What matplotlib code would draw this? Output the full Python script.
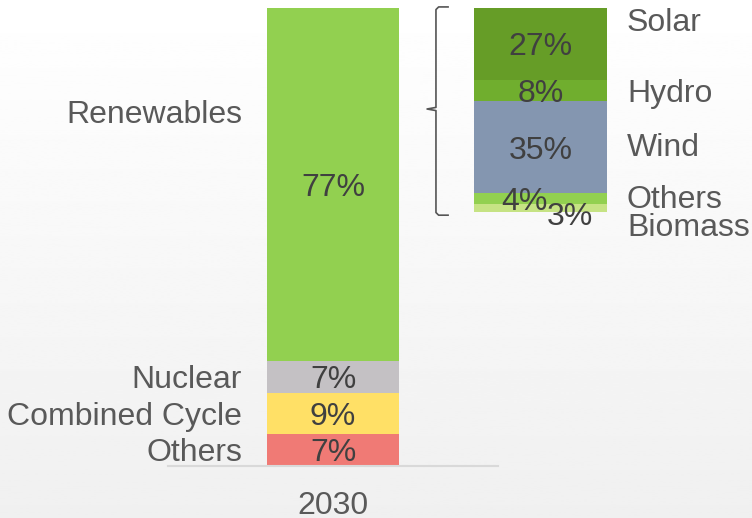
import numpy as np
import matplotlib.pyplot as plt
from matplotlib.transforms import offset_copy

plt.rcParams['font.family'] = ['Liberation Sans', 'DejaVu Sans']

# 2030 generation mix (share of total, %)
mix_labels = ['Others', 'Combined Cycle', 'Nuclear', 'Renewables']
mix_values = [7, 9, 7, 77]
mix_colors = ['#f07a75', '#ffe066', '#c4c1c4', '#92d050']

# breakdown of the renewables share (% of total)
ren_labels = ['Biomass', 'Others', 'Wind', 'Hydro', 'Solar']
ren_values = [3, 4, 35, 8, 27]
ren_colors = ['#c6e384', '#92d050', '#8496b0', '#70ae2e', '#669d27']

year = '2030'

W, H = 752, 518
fig = plt.figure(figsize=(W / 100, H / 100), dpi=100)

# background gradient: white at the top to light grey at the bottom
bg = fig.add_axes([0, 0, 1, 1])
grad = np.linspace(0.94, 1.0, 256)
grad = np.clip(grad + np.where(np.arange(256) > 246, 0.06, 0), 0, 1)
bg.imshow(grad[:, None], cmap='gray', vmin=0, vmax=1,
          aspect='auto', extent=[0, 1, 0, 1], origin='lower')
bg.axis('off')

label_col = '#595959'
pct_col = '#404040'
fs = 23

# main stacked bar
ax = fig.add_axes([168 / W, (H - 466) / H, 330 / W, 458 / H])
ax.patch.set_alpha(0)
tr = offset_copy(ax.transData, fig=fig, x=0, y=-3.5, units='dots')
bw = 0.4
bottom = 0
centers = []
for val, col in zip(mix_values, mix_colors):
    ax.bar(0, val, width=bw, bottom=bottom, color=col, linewidth=0)
    centers.append(bottom + val / 2)
    ax.text(0, bottom + val / 2, f'{val}%', ha='center', va='center',
            fontsize=fs, color=pct_col, transform=tr)
    bottom += val

label_y = centers[:3] + [77.5]
for lab, y in zip(mix_labels, label_y):
    ax.text(-bw / 2 - 0.076, y, lab, ha='right', va='center',
            fontsize=fs, color=label_col, transform=tr)

ax.set_xlim(-0.5, 0.5)
ax.set_ylim(0, sum(mix_values))
for s in ['top', 'left', 'right']:
    ax.spines[s].set_visible(False)
ax.spines['bottom'].set_color('#d9d9d9')
ax.spines['bottom'].set_linewidth(1.5)
ax.set_yticks([])
ax.set_xticks([0])
ax.set_xticklabels([year], fontsize=fs, color=label_col)
ax.tick_params(axis='x', length=0, pad=18)

# renewables breakdown bar
ax2 = fig.add_axes([474 / W, (H - 212) / H, 133 / W, 204 / H])
ax2.patch.set_alpha(0)
tr2 = offset_copy(ax2.transData, fig=fig, x=0, y=-3.5, units='dots')
bottom = 0
for val, col in zip(ren_values, ren_colors):
    ax2.bar(0, val, width=1.0, bottom=bottom, color=col, linewidth=0)
    bottom += val

pct_pos = [(0.22, -0.5), (-0.12, 5.0), (0, 24.5), (0, 46), (0, 63.5)]
for val, (dx, y) in zip(ren_values, pct_pos):
    ax2.text(dx, y, f'{val}%', ha='center', va='center',
             fontsize=fs, color=pct_col, transform=tr2)

ren_label_y = [-4.9, 6.0, 25.3, 46, 72.5]
for lab, y in zip(ren_labels, ren_label_y):
    ax2.text(0.65, y, lab, ha='left', va='center',
             fontsize=fs, color=label_col, clip_on=False, transform=tr2)

ax2.set_xlim(-0.5, 0.5)
ax2.set_ylim(0, sum(ren_values))
ax2.axis('off')

# brace linking the renewables segment to its breakdown
top = sum(ren_values)
mid = top * (212 - 109) / 204
bx, tip, hook = -0.786, -0.853, -0.695
bxs = [hook, bx + 0.02, bx, bx, tip, bx, bx, bx + 0.02, hook]
bys = [top + 0.4, top + 0.4, top - 0.6, mid + 0.6, mid, mid - 0.6, -0.2, -1.2, -1.2]
ax2.plot(bxs, bys, color='#555555', lw=1.2, clip_on=False,
         solid_joinstyle='round')

fig.savefig('out.png', dpi=100)
